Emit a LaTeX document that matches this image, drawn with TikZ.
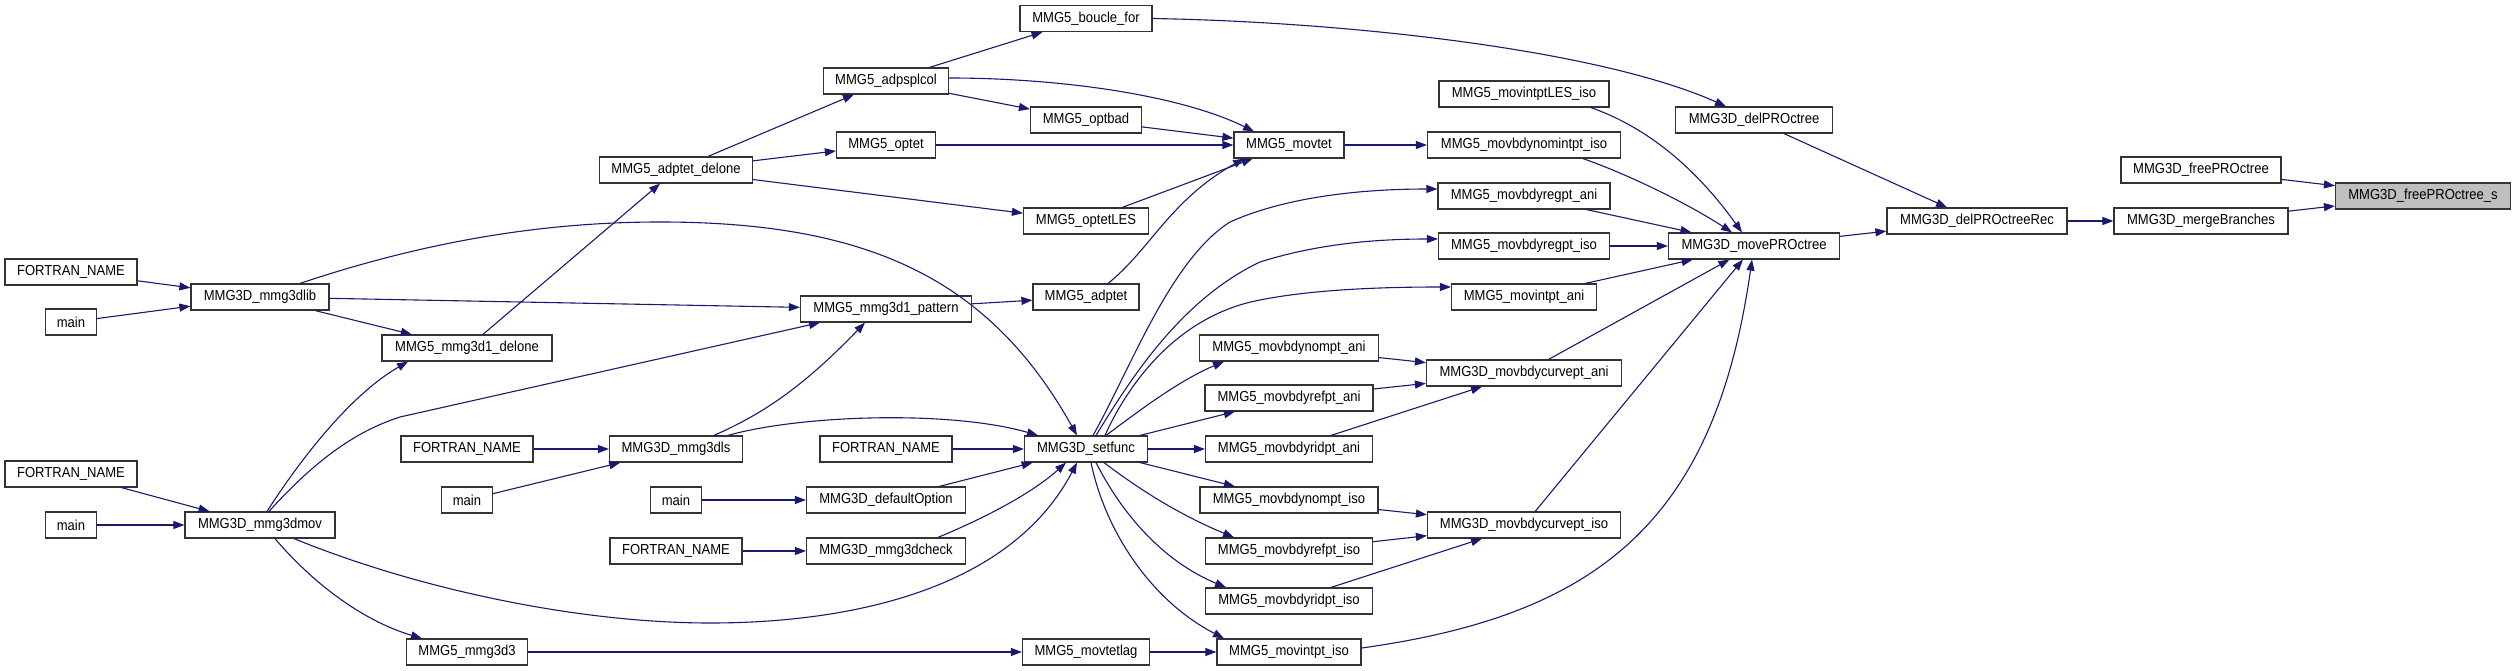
\documentclass[tikz,border=0pt]{standalone}
\usepackage{fontspec}
\setmainfont{Liberation Sans}[FakeStretch=0.9]
\usetikzlibrary{arrows.meta}
\definecolor{mblue}{RGB}{25,25,112}
\definecolor{selgrey}{RGB}{191,191,191}
\begin{document}
\begin{tikzpicture}[x=1pt,y=-1pt,
  box/.style={draw=black!80, fill=white, line width=1.2pt, minimum height=26pt, inner xsep=2pt, inner ysep=0pt, font=\fontsize{14.5}{17}\selectfont},
  e/.style={draw=mblue, line width=1.1pt, -{Triangle[length=11pt,width=8pt]}, fill=none}]
\useasboundingbox (0,0) rectangle (2516,671);
% column 1
\node[box, minimum width=132pt] (fn1) at (71,272) {FORTRAN\_NAME};
\node[box, minimum width=51pt] (main1) at (71,322) {main};
\node[box, minimum width=132pt] (fn2) at (71,474) {FORTRAN\_NAME};
\node[box, minimum width=51pt] (main2) at (71,525) {main};
% column 2
\node[box, minimum width=138pt] (lib) at (260,297) {MMG3D\_mmg3dlib};
\node[box, minimum width=150pt] (mov) at (260,525) {MMG3D\_mmg3dmov};
% column 3
\node[box, minimum width=170pt] (d1del) at (467,348) {MMG5\_mmg3d1\_delone};
\node[box, minimum width=132pt] (fn3) at (467,449) {FORTRAN\_NAME};
\node[box, minimum width=51pt] (main3) at (467,500) {main};
\node[box, minimum width=121pt] (d3) at (467,652) {MMG5\_mmg3d3};
% column 4
\node[box, minimum width=153pt] (adel) at (676,170) {MMG5\_adptet\_delone};
\node[box, minimum width=133pt] (dls) at (676,449) {MMG3D\_mmg3dls};
\node[box, minimum width=51pt] (main4) at (676,500) {main};
\node[box, minimum width=132pt] (fn5) at (676,551) {FORTRAN\_NAME};
% column 5
\node[box, minimum width=125pt] (adp) at (886,81) {MMG5\_adpsplcol};
\node[box, minimum width=99pt] (optet) at (886,145) {MMG5\_optet};
\node[box, minimum width=171pt] (pat) at (886,309) {MMG5\_mmg3d1\_pattern};
\node[box, minimum width=132pt] (fn4) at (886,449) {FORTRAN\_NAME};
\node[box, minimum width=159pt] (defo) at (886,500) {MMG3D\_defaultOption};
\node[box, minimum width=159pt] (chk) at (886,551) {MMG3D\_mmg3dcheck};
% column 6
\node[box, minimum width=132pt] (bfor) at (1086,18.5) {MMG5\_boucle\_for};
\node[box, minimum width=111pt] (optbad) at (1086,120) {MMG5\_optbad};
\node[box, minimum width=125pt] (optles) at (1086,221) {MMG5\_optetLES};
\node[box, minimum width=106pt] (adptet) at (1086,297) {MMG5\_adptet};
\node[box, minimum width=123pt] (setf) at (1086,449) {MMG3D\_setfunc};
\node[box, minimum width=127pt] (lag) at (1086,652) {MMG5\_movtetlag};
% column 7
\node[box, minimum width=110pt] (movtet) at (1289,145) {MMG5\_movtet};
\node[box, minimum width=179pt] (nompa) at (1289,348) {MMG5\_movbdynompt\_ani};
\node[box, minimum width=168pt] (refpa) at (1289,398) {MMG5\_movbdyrefpt\_ani};
\node[box, minimum width=167pt] (ridpa) at (1289,449) {MMG5\_movbdyridpt\_ani};
\node[box, minimum width=178pt] (nompi) at (1289,500) {MMG5\_movbdynompt\_iso};
\node[box, minimum width=167pt] (refpi) at (1289,551) {MMG5\_movbdyrefpt\_iso};
\node[box, minimum width=167pt] (ridpi) at (1289,601) {MMG5\_movbdyridpt\_iso};
\node[box, minimum width=144pt] (mipi) at (1289,652) {MMG5\_movintpt\_iso};
% column 8
\node[box, minimum width=170pt] (les) at (1524,94) {MMG5\_movintptLES\_iso};
\node[box, minimum width=193pt] (nomi) at (1524,145) {MMG5\_movbdynomintpt\_iso};
\node[box, minimum width=172pt] (rega) at (1524,196) {MMG5\_movbdyregpt\_ani};
\node[box, minimum width=171pt] (regi) at (1524,246) {MMG5\_movbdyregpt\_iso};
\node[box, minimum width=145pt] (mia) at (1524,297) {MMG5\_movintpt\_ani};
\node[box, minimum width=195pt] (cva) at (1524,373) {MMG3D\_movbdycurvept\_ani};
\node[box, minimum width=193pt] (cvi) at (1524,525) {MMG3D\_movbdycurvept\_iso};
% column 9
\node[box, minimum width=157pt] (delp) at (1754,120) {MMG3D\_delPROctree};
\node[box, minimum width=171pt] (movp) at (1754,246) {MMG3D\_movePROctree};
% column 10-12
\node[box, minimum width=180pt] (delrec) at (1977,221) {MMG3D\_delPROctreeRec};
\node[box, minimum width=160pt] (free) at (2201,170) {MMG3D\_freePROctree};
\node[box, minimum width=174pt] (merge) at (2201,221) {MMG3D\_mergeBranches};
\node[box, minimum width=175pt, fill=selgrey] (frees) at (2423,196) {MMG3D\_freePROctree\_s};

% straight edges
\draw[e] (fn1) -- (lib);
\draw[e] (main1) -- (lib);
\draw[e] (lib) -- (d1del);
\draw[e] (lib) -- (pat);
\draw[e] (d1del) -- (adel);
\draw[e] (fn2) -- (mov);
\draw[e] (main2) -- (mov);
\draw[e] (fn3) -- (dls);
\draw[e] (main3) -- (dls);
\draw[e] (fn4) -- (setf);
\draw[e] (main4) -- (defo);
\draw[e] (defo) -- (setf);
\draw[e] (fn5) -- (chk);
\draw[e] (d3) -- (lag);
\draw[e] (lag) -- (mipi);
\draw[e] (pat) -- (adptet);
\draw[e] (adel) -- (adp);
\draw[e] (adel) -- (optet);
\draw[e] (adel) -- (optles);
\draw[e] (adp) -- (bfor);
\draw[e] (adp) -- (optbad);
\draw[e] (optbad) -- (movtet);
\draw[e] (optet) -- (movtet);
\draw[e] (optles) -- (movtet);
\draw[e] (movtet) -- (nomi);
\draw[e] (rega) -- (movp);
\draw[e] (regi) -- (movp);
\draw[e] (mia) -- (movp);
\draw[e] (cva) -- (movp);
\draw[e] (cvi) -- (movp);
\draw[e] (delp) -- (delrec);
\draw[e] (movp) -- (delrec);
\draw[e] (delrec) -- (merge);
\draw[e] (merge) -- (frees);
\draw[e] (free) -- (frees);
\draw[e] (setf) -- (refpa);
\draw[e] (setf) -- (ridpa);
\draw[e] (setf) -- (nompi);
\draw[e] (nompa) -- (cva);
\draw[e] (refpa) -- (cva);
\draw[e] (ridpa) -- (cva);
\draw[e] (nompi) -- (cvi);
\draw[e] (refpi) -- (cvi);
\draw[e] (ridpi) -- (cvi);

% curved edges
\draw[e] ([xshift=40pt]lib.north) .. controls (400,250) and (520,222) .. (660,222)
  .. controls (870,222) and (990,280) .. ([xshift=-9pt]setf.north);
\draw[e] ([xshift=38pt]dls.north) .. controls (760,415) and (800,390) .. ([xshift=-21pt]pat.south);
\draw[e] ([xshift=9pt]mov.north) .. controls (320,455) and (360,430) .. (400,417) -- ([xshift=-66pt]pat.south);
\draw[e] ([xshift=7pt]mov.north) .. controls (300,460) and (350,395) .. ([xshift=-59pt]d1del.south);
\draw[e] ([xshift=34pt]mov.south) .. controls (420,590) and (580,623) .. (710,623)
  .. controls (850,623) and (1010,590) .. ([xshift=-9pt]setf.south);
\draw[e] ([xshift=15pt]mov.south) .. controls (310,580) and (360,620) .. ([xshift=-45pt]d3.north);
\draw[e] ([xshift=52pt]dls.north) .. controls (800,415) and (950,410) .. ([xshift=-48pt]setf.north);
\draw[e] ([xshift=52pt]chk.north) .. controls (980,520) and (1030,495) .. ([xshift=-20pt]setf.south);
\draw[e] ([xshift=22pt]adptet.north) .. controls (1150,250) and (1170,200) .. ([xshift=-45pt]movtet.south);
\draw[e] ([yshift=3pt]adp.east) .. controls (1060,78) and (1180,95) .. ([xshift=-35pt]movtet.north);
\draw[e] (bfor.east) .. controls (1350,22) and (1600,50) .. ([xshift=-28pt]delp.north);
\draw[e] ([xshift=67pt]les.south) .. controls (1640,125) and (1690,160) .. ([xshift=-12pt]movp.north);
\draw[e] ([xshift=59pt]nomi.south) .. controls (1630,175) and (1690,205) .. ([xshift=-22pt]movp.north);
\draw[e] ([yshift=4pt]mipi.east) .. controls (1600,615) and (1715,520) .. ([xshift=-2pt]movp.south);
\draw[e] ([xshift=7pt]setf.north) .. controls (1130,370) and (1170,260) .. (1230,222)
  .. controls (1290,195) and (1370,189) .. ([yshift=7pt]rega.west);
\draw[e] ([xshift=10pt]setf.north) .. controls (1130,380) and (1180,300) .. (1260,262)
  .. controls (1320,243) and (1380,239) .. ([yshift=7pt]regi.west);
\draw[e] ([xshift=19pt]setf.north) .. controls (1130,380) and (1180,315) .. (1260,300)
  .. controls (1320,288) and (1400,287) .. ([yshift=10pt]mia.west);
\draw[e] ([xshift=20pt]setf.north) .. controls (1140,410) and (1180,380) .. ([xshift=-65pt]nompa.south);
\draw[e] ([xshift=18pt]setf.south) .. controls (1140,490) and (1180,515) .. ([xshift=-55pt]refpi.north);
\draw[e] ([xshift=10pt]setf.south) .. controls (1120,510) and (1160,560) .. ([xshift=-63pt]ridpi.north);
\draw[e] ([xshift=5pt]setf.south) .. controls (1105,530) and (1150,600) .. ([xshift=-65pt]mipi.north);
\end{tikzpicture}
\end{document}
